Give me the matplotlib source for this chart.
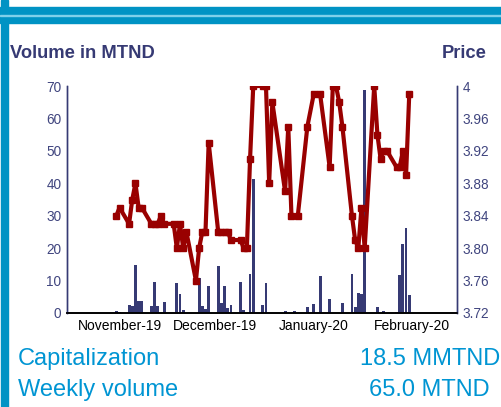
import pandas as pd
import matplotlib
matplotlib.use("Agg")
import matplotlib.pyplot as plt
from matplotlib.patches import Rectangle

plt.rcParams["font.family"] = ["Liberation Sans", "DejaVu Sans"]

# daily traded volume (MTND)
vol_dates = ["2019-10-31", "2019-11-01", "2019-11-04", "2019-11-05", "2019-11-06", "2019-11-07",
             "2019-11-08", "2019-11-11", "2019-11-12", "2019-11-13", "2019-11-15", "2019-11-19",
             "2019-11-20", "2019-11-21", "2019-11-26", "2019-11-27", "2019-11-28", "2019-11-29",
             "2019-12-02", "2019-12-03", "2019-12-04", "2019-12-05", "2019-12-06", "2019-12-09",
             "2019-12-10", "2019-12-12", "2019-12-13", "2019-12-16", "2019-12-17", "2019-12-23",
             "2019-12-26", "2019-12-30", "2020-01-01", "2020-01-03", "2020-01-06", "2020-01-10",
             "2020-01-13", "2020-01-14", "2020-01-15", "2020-01-16", "2020-01-17", "2020-01-21",
             "2020-01-23", "2020-01-27", "2020-01-28", "2020-01-29", "2020-01-30", "2020-01-31"]
vol_values = [0.7, 0.4, 2.4, 2.1, 14.9, 3.8,
              3.8, 2.1, 9.5, 2.1, 3.3, 9.1,
              5.8, 1.0, 10.8, 2.1, 1.2, 8.2,
              14.4, 3.0, 8.2, 1.4, 2.4, 9.5,
              0.8, 11.9, 41.2, 2.4, 9.1, 0.5,
              0.5, 1.8, 2.8, 11.3, 4.2, 3.0,
              11.9, 1.8, 6.1, 5.8, 68.7, 1.7,
              0.5, 0.3, 11.6, 21.2, 26.3, 5.5]

# closing price
price_dates = ["2019-10-31", "2019-11-01", "2019-11-04", "2019-11-05", "2019-11-06", "2019-11-07",
               "2019-11-08", "2019-11-11", "2019-11-12", "2019-11-13", "2019-11-14", "2019-11-15",
               "2019-11-18", "2019-11-19", "2019-11-20", "2019-11-21", "2019-11-22", "2019-11-25",
               "2019-11-26", "2019-11-27", "2019-11-28", "2019-11-29", "2019-12-02", "2019-12-03",
               "2019-12-04", "2019-12-05", "2019-12-06", "2019-12-09", "2019-12-10", "2019-12-11",
               "2019-12-12", "2019-12-13", "2019-12-16", "2019-12-17", "2019-12-18", "2019-12-19",
               "2019-12-23", "2019-12-24", "2019-12-25", "2019-12-27", "2019-12-30", "2020-01-01",
               "2020-01-03", "2020-01-06", "2020-01-07", "2020-01-08", "2020-01-09", "2020-01-10",
               "2020-01-13", "2020-01-14", "2020-01-15", "2020-01-16", "2020-01-17", "2020-01-20",
               "2020-01-21", "2020-01-22", "2020-01-23", "2020-01-24", "2020-01-27", "2020-01-28",
               "2020-01-29", "2020-01-30", "2020-01-31"]
price_values = [3.84, 3.85, 3.83, 3.86, 3.88, 3.85,
                3.85, 3.83, 3.83, 3.83, 3.84, 3.83,
                3.83, 3.80, 3.83, 3.80, 3.82, 3.76,
                3.80, 3.82, 3.82, 3.93, 3.82, 3.82,
                3.82, 3.82, 3.81, 3.81, 3.80, 3.80,
                3.91, 4.00, 4.00, 4.00, 3.88, 3.98,
                3.87, 3.95, 3.84, 3.84, 3.95, 3.99,
                3.99, 3.90, 4.00, 4.00, 3.98, 3.95,
                3.84, 3.81, 3.80, 3.85, 3.80, 4.00,
                3.94, 3.91, 3.92, 3.92, 3.90, 3.90,
                3.92, 3.89, 3.99]

month_ticks = ["2019-11-01", "2019-12-01", "2020-01-01", "2020-02-01"]
month_labels = ["November-19", "December-19", "January-20", "February-20"]

navy = "#363a74"
label_col = "#40457f"
red = "#990000"
blue = "#0095d3"
band = "#0093c4"

W, H = 502, 407
fig = plt.figure(figsize=(W / 100, H / 100), dpi=100)

# frame decorations
fig.patches.append(Rectangle((0, 1 - 23 / H), 1, 16 / H, transform=fig.transFigure,
                             color=band, zorder=0))
fig.patches.append(Rectangle((0, 1 - 15.5 / H), 1, 1 / H, transform=fig.transFigure,
                             color="#7fd0ea", zorder=1))
fig.patches.append(Rectangle((1 / W, 0), 7 / W, 1, transform=fig.transFigure,
                             color=band, zorder=0))

ax = fig.add_axes([67 / W, 1 - 313 / H, 390 / W, 227 / H])
ax2 = ax.twinx()

vd = pd.to_datetime(vol_dates)
pdts = pd.to_datetime(price_dates)

ax.bar(vd, vol_values, width=0.9, color=navy, zorder=2)
ax2.plot(pdts, price_values, color=red, lw=3.0, marker="s", ms=4.2,
         mec=red, mfc=red)

ax.set_xlim(pd.Timestamp("2019-10-15 12:00"), pd.Timestamp("2020-02-15"))
ax.set_ylim(0, 70)
ax.set_yticks(range(0, 71, 10))
ax2.set_ylim(3.72, 4.00)
p_ticks = [3.72 + 0.04 * i for i in range(8)]
ax2.set_yticks(p_ticks)
ax2.set_yticklabels(["4" if abs(v - 4) < 1e-9 else f"{v:.2f}" for v in p_ticks])

ax.set_xticks(pd.to_datetime(month_ticks))
ax.set_xticklabels(month_labels)

for a in (ax, ax2):
    a.spines["top"].set_visible(False)
    a.spines["left"].set_color(navy)
    a.spines["right"].set_color(navy)
    a.spines["bottom"].set_color("black")
    a.spines["left"].set_linewidth(1.0)
    a.spines["right"].set_linewidth(1.0)
    a.spines["bottom"].set_linewidth(1.2)

ax.tick_params(axis="y", length=0, pad=4, labelsize=9.8, labelcolor=label_col)
ax2.tick_params(axis="y", length=0, pad=4, labelsize=9.8, labelcolor=label_col)
ax.tick_params(axis="x", length=0, pad=4, labelsize=10, labelcolor="black")

fig.text(10 / W, 1 - 53 / H, "Volume in MTND", fontsize=13.2, fontweight="bold",
         color=navy, va="center", ha="left")
fig.text(487 / W, 1 - 53 / H, "Price", fontsize=13.2, fontweight="bold",
         color=navy, va="center", ha="right")

fig.text(18 / W, 1 - 359 / H, "Capitalization", fontsize=17, color=blue,
         va="center", ha="left")
fig.text(500 / W, 1 - 359 / H, "18.5 MMTND", fontsize=17, color=blue,
         va="center", ha="right")
fig.text(18 / W, 1 - 390 / H, "Weekly volume", fontsize=17, color=blue,
         va="center", ha="left")
fig.text(490 / W, 1 - 390 / H, "65.0 MTND", fontsize=17, color=blue,
         va="center", ha="right")

fig.savefig("out.png", dpi=100)
